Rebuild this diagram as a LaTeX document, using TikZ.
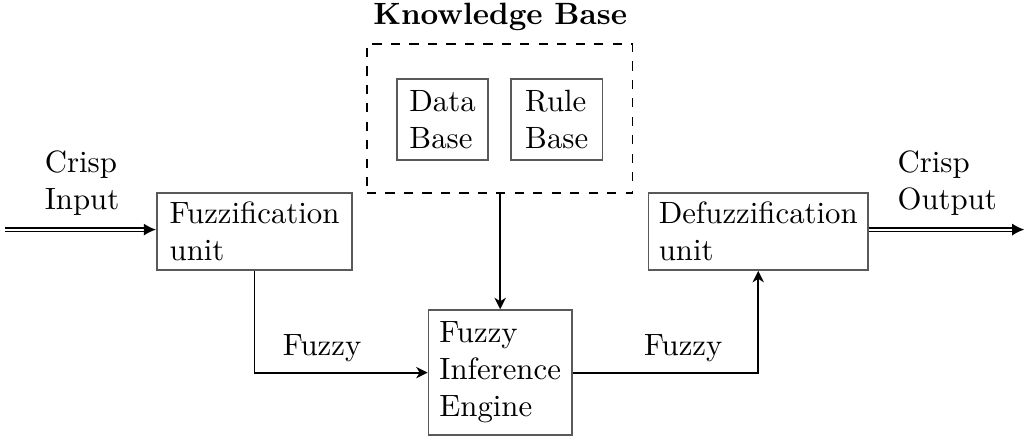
\documentclass[tikz,border=0pt]{standalone}
\usepackage{tikz}
\usetikzlibrary{shapes,arrows.meta,positioning}

\begin{document}
\begin{tikzpicture}[
    box/.style={rectangle, draw=black!65, line width=0.5pt, minimum height=0.88cm, align=left, inner sep=1.5pt},
    kbbox/.style={rectangle, draw, dashed, minimum width=3.03cm, minimum height=1.70cm},
    arrow/.style={-{Stealth[length=1.3mm,width=1.3mm,inset=0.4mm]}, semithick},
    dblarrow/.style={-{Latex[length=1.4mm,width=1.4mm]}, double, double distance=0.6pt, semithick}
]
    \useasboundingbox (0,0) rectangle (11.72,-4.99);

    % Knowledge base
    \node[font=\bfseries] (kbtitle) at (5.708,-0.194) {Knowledge Base};
    \node[kbbox] (kb) at (5.702,-1.353) {};
    \node[box, minimum width=1.04cm, minimum height=0.92cm] (data) at (5.051,-1.364) {Data\\Base};
    \node[box, minimum width=1.04cm, minimum height=0.92cm] (rule) at (6.353,-1.364) {Rule\\Base};

    % Processing units
    \node[box, minimum width=2.23cm] (fuzz) at (2.905,-2.643) {Fuzzification\\unit};
    \node[box, minimum width=2.51cm] (defuzz) at (8.653,-2.643) {Defuzzification\\unit};
    \node[box, minimum width=1.64cm, minimum height=1.43cm] (fie) at (5.708,-4.252) {Fuzzy\\Inference\\Engine};

    % Crisp input and output
    \coordinate (in) at (0.06,-2.62);
    \coordinate (out) at (11.69,-2.62);
    \node[align=left] (inlabel) at (0.936,-2.089) {Crisp\\Input};
    \node[align=left] (outlabel) at (10.81,-2.089) {Crisp\\Output};

    % Labels
    \node (fzleft) at (3.676,-3.973) {Fuzzy};
    \node (fzright) at (7.797,-3.973) {Fuzzy};

    % Arrows
    \draw[dblarrow] (in) -- (in -| fuzz.west);
    \draw[dblarrow] (out -| defuzz.east) -- (out);
    \draw[arrow] (kb.south -| fie.north) -- (fie.north);
    \draw[arrow] (fuzz.south) |- (fie.west);
    \draw[arrow] (fie.east) -| (defuzz.south);
\end{tikzpicture}
\end{document}
